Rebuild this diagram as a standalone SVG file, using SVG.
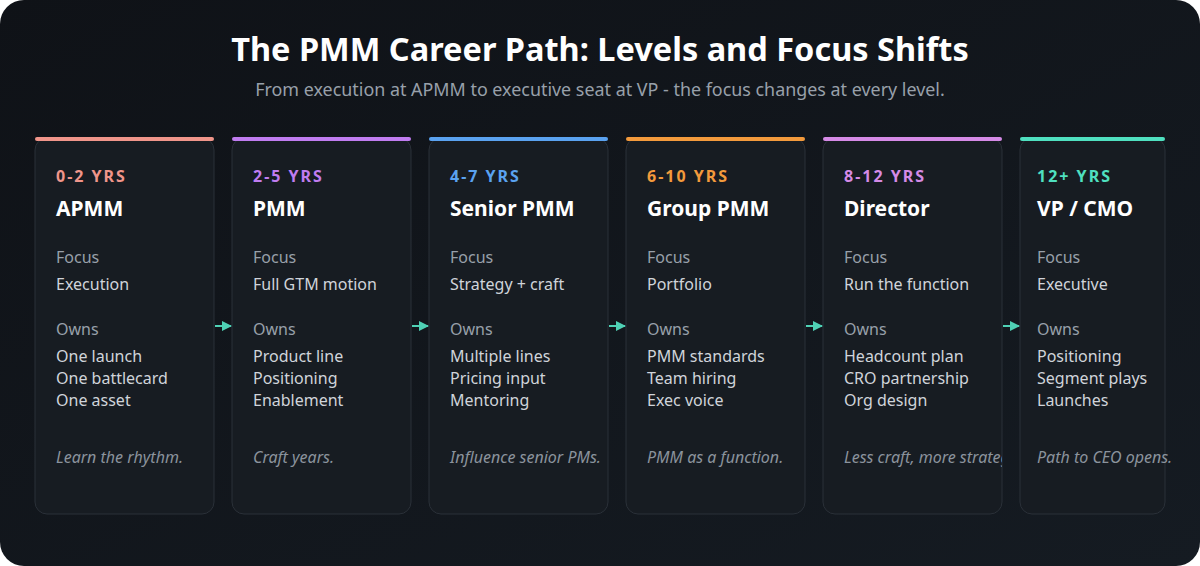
<svg xmlns="http://www.w3.org/2000/svg" width="1200" height="566" viewBox="0 0 1200 566">
<defs>
<linearGradient id="bg" x1="0" y1="0" x2="1" y2="1"><stop offset="0" stop-color="#0f1217"/><stop offset="1" stop-color="#151b22"/></linearGradient>
<marker id="ah" viewBox="0 0 10 10" refX="9" refY="5" markerWidth="5" markerHeight="5" orient="auto"><path d="M0,0 L10,5 L0,10 z" fill="#4fd1b5"/></marker>
<clipPath id="c5"><rect x="823" y="138" width="179" height="376" rx="12"/></clipPath>
</defs>
<style>
text{font-family:"Noto Sans","Open Sans","Liberation Sans",sans-serif}
.card{fill:#171c22;stroke:#2a3038;stroke-width:1}
.yr{font-size:16px;font-weight:700;letter-spacing:2px}
.nm{font-size:21px;font-weight:700;fill:#ffffff}
.lb{font-size:16px;fill:#98a0aa}
.tx{font-size:16px;fill:#d0d4da}
.it{font-size:16px;font-style:italic;fill:#8b939d}
.conn line{stroke:#4fd1b5;stroke-width:2;marker-end:url(#ah)}
</style>
<rect width="1200" height="566" fill="#ffffff"/>
<rect width="1200" height="566" rx="24" fill="url(#bg)"/>
<text x="600" y="61" text-anchor="middle" font-size="32.5" font-weight="700" fill="#ffffff">The PMM Career Path: Levels and Focus Shifts</text>
<text x="600" y="96" text-anchor="middle" font-size="17.9" fill="#98a0aa">From execution at APMM to executive seat at VP - the focus changes at every level.</text>

<g id="n1"><rect class="card" x="35" y="138" width="179" height="376" rx="12"/><rect x="35" y="137" width="179" height="4" rx="2" fill="#f0958a"/>
<text x="56" y="182" class="yr" fill="#f0958a">0-2 YRS</text><text x="56" y="216" class="nm">APMM</text>
<text x="56" y="263" class="lb">Focus</text><text x="56" y="290" class="tx">Execution</text><text x="56" y="335" class="lb">Owns</text>
<text x="56" y="362" class="tx">One launch</text><text x="56" y="384" class="tx">One battlecard</text><text x="56" y="406" class="tx">One asset</text>
<text x="56" y="463" class="it">Learn the rhythm.</text></g>

<g id="n2"><rect class="card" x="232" y="138" width="179" height="376" rx="12"/><rect x="232" y="137" width="179" height="4" rx="2" fill="#c07cf0"/>
<text x="253" y="182" class="yr" fill="#c07cf0">2-5 YRS</text><text x="253" y="216" class="nm">PMM</text>
<text x="253" y="263" class="lb">Focus</text><text x="253" y="290" class="tx">Full GTM motion</text><text x="253" y="335" class="lb">Owns</text>
<text x="253" y="362" class="tx">Product line</text><text x="253" y="384" class="tx">Positioning</text><text x="253" y="406" class="tx">Enablement</text>
<text x="253" y="463" class="it">Craft years.</text></g>

<g id="n3"><rect class="card" x="429" y="138" width="179" height="376" rx="12"/><rect x="429" y="137" width="179" height="4" rx="2" fill="#5aa2f0"/>
<text x="450" y="182" class="yr" fill="#5aa2f0">4-7 YRS</text><text x="450" y="216" class="nm">Senior PMM</text>
<text x="450" y="263" class="lb">Focus</text><text x="450" y="290" class="tx">Strategy + craft</text><text x="450" y="335" class="lb">Owns</text>
<text x="450" y="362" class="tx">Multiple lines</text><text x="450" y="384" class="tx">Pricing input</text><text x="450" y="406" class="tx">Mentoring</text>
<text x="450" y="463" class="it">Influence senior PMs.</text></g>

<g id="n4"><rect class="card" x="626" y="138" width="179" height="376" rx="12"/><rect x="626" y="137" width="179" height="4" rx="2" fill="#f39a3c"/>
<text x="647" y="182" class="yr" fill="#f39a3c">6-10 YRS</text><text x="647" y="216" class="nm">Group PMM</text>
<text x="647" y="263" class="lb">Focus</text><text x="647" y="290" class="tx">Portfolio</text><text x="647" y="335" class="lb">Owns</text>
<text x="647" y="362" class="tx">PMM standards</text><text x="647" y="384" class="tx">Team hiring</text><text x="647" y="406" class="tx">Exec voice</text>
<text x="647" y="463" class="it">PMM as a function.</text></g>

<g id="n5"><rect class="card" x="823" y="138" width="179" height="376" rx="12"/><rect x="823" y="137" width="179" height="4" rx="2" fill="#d58ae6"/>
<g clip-path="url(#c5)">
<text x="844" y="182" class="yr" fill="#d58ae6">8-12 YRS</text><text x="844" y="216" class="nm">Director</text>
<text x="844" y="263" class="lb">Focus</text><text x="844" y="290" class="tx">Run the function</text><text x="844" y="335" class="lb">Owns</text>
<text x="844" y="362" class="tx">Headcount plan</text><text x="844" y="384" class="tx">CRO partnership</text><text x="844" y="406" class="tx">Org design</text>
<text x="844" y="463" class="it">Less craft, more strategy.</text></g></g>

<g id="n6"><rect class="card" x="1020" y="138" width="145" height="376" rx="12"/><rect x="1020" y="137" width="145" height="4" rx="2" fill="#4fe0c0"/>
<text x="1037" y="182" class="yr" fill="#4fe0c0">12+ YRS</text><text x="1037" y="216" class="nm">VP / CMO</text>
<text x="1037" y="263" class="lb">Focus</text><text x="1037" y="290" class="tx">Executive</text><text x="1037" y="335" class="lb">Owns</text>
<text x="1037" y="362" class="tx">Positioning</text><text x="1037" y="384" class="tx">Segment plays</text><text x="1037" y="406" class="tx">Launches</text>
<text x="1037" y="463" class="it">Path to CEO opens.</text></g>

<g class="conn">
<line x1="215" y1="326" x2="231" y2="326"/>
<line x1="412" y1="326" x2="428" y2="326"/>
<line x1="609" y1="326" x2="625" y2="326"/>
<line x1="806" y1="326" x2="822" y2="326"/>
<line x1="1003" y1="326" x2="1019" y2="326"/>
</g>
</svg>
